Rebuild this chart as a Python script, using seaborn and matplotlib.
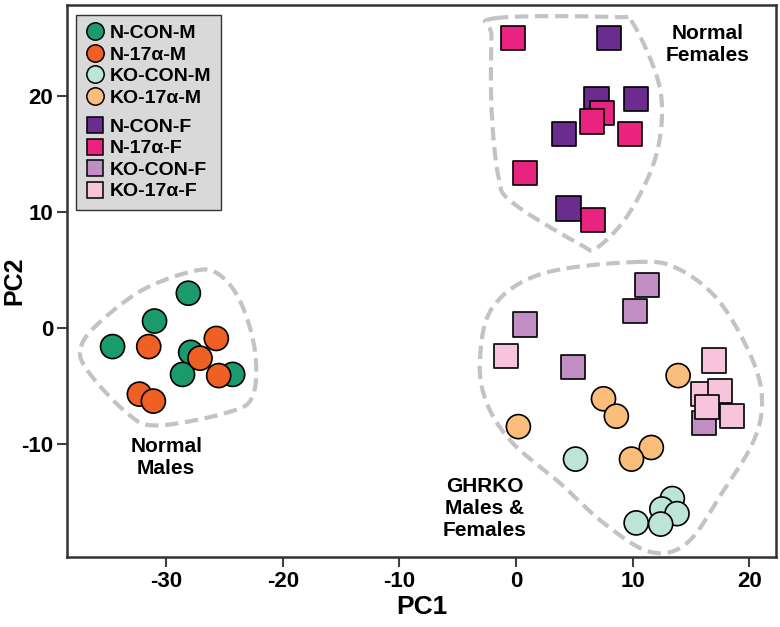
import numpy as np
import pandas as pd
import seaborn as sns
import matplotlib.pyplot as plt
from matplotlib.lines import Line2D
from matplotlib.patches import Rectangle

# PCA scores, one pair of lists per group
n_con_m_pc1 = [-28.1, -31.0, -34.6, -27.9, -28.6, -24.3]
n_con_m_pc2 = [3.0, 0.6, -1.6, -2.1, -4.0, -4.0]
n_17a_m_pc1 = [-31.5, -25.7, -27.1, -25.5, -32.3, -31.1]
n_17a_m_pc2 = [-1.6, -0.9, -2.6, -4.1, -5.7, -6.3]
ko_con_m_pc1 = [5.1, 13.4, 12.5, 13.8, 12.4, 10.3]
ko_con_m_pc2 = [-11.3, -14.7, -15.6, -16.0, -16.9, -16.8]
ko_17a_m_pc1 = [13.9, 7.5, 8.6, 0.2, 11.6, 9.9]
ko_17a_m_pc2 = [-4.1, -6.1, -7.6, -8.5, -10.3, -11.3]
n_con_f_pc1 = [8.0, 6.9, 10.3, 4.1, 4.5]
n_con_f_pc2 = [25.0, 19.7, 19.7, 16.7, 10.3]
n_17a_f_pc1 = [-0.3, 7.4, 6.5, 9.8, 0.8, 6.6]
n_17a_f_pc2 = [25.0, 18.5, 17.8, 16.7, 13.4, 9.3]
ko_con_f_pc1 = [11.2, 10.2, 0.8, 4.9, 16.1]
ko_con_f_pc2 = [3.7, 1.5, 0.3, -3.4, -8.2]
ko_17a_f_pc1 = [-0.9, 17.0, 16.0, 17.5, 16.4, 18.5]
ko_17a_f_pc2 = [-2.4, -2.8, -5.7, -5.4, -6.8, -7.6]

group_names = ['N-CON-M', 'N-17α-M', 'KO-CON-M', 'KO-17α-M',
               'N-CON-F', 'N-17α-F', 'KO-CON-F', 'KO-17α-F']
group_colors = ['#1b9a6c', '#ee6024', '#bde5d6', '#fbbd7c',
                '#6a2c8f', '#e9237f', '#c18ec4', '#f7c4dc']

# dashed cluster outlines (rough vertices, smoothed below)
males_outline_x = [-37.3, -35.7, -32.0, -27.7, -25.6, -23.7, -22.4, -22.6, -24.8, -30.8, -33.4, -36.8]
males_outline_y = [-1.6, 0.5, 3.3, 4.9, 4.7, 2.4, -1.9, -5.9, -7.3, -8.4, -7.3, -3.6]
females_outline_x = [-1.8, 8.7, 10.0, 12.1, 12.5, 11.7, 9.5, 6.9, 5.5, -0.3, -1.5, -2.1, -2.1]
females_outline_y = [26.7, 26.8, 26.3, 21.6, 17.9, 13.9, 9.6, 6.9, 7.2, 10.8, 13.0, 18.8, 25.1]
ghrko_outline_x = [10.6, 2.3, -2.0, -3.1, -2.5, -0.3, 3.8, 7.5, 11.5, 14.7, 17.8, 20.3, 21.1, 20.3, 17.5, 14.1]
ghrko_outline_y = [5.7, 4.7, 1.8, -2.8, -6.5, -9.9, -13.4, -16.8, -19.3, -18.5, -14.0, -9.9, -6.5, -2.8, 2.2, 5.0]


def closed_spline(xs, ys, n=24):
    """Closed Catmull-Rom curve through the outline vertices"""
    p = np.column_stack([xs, ys])
    k = len(p)
    out = []
    for i in range(k):
        p0, p1, p2, p3 = p[i - 1], p[i], p[(i + 1) % k], p[(i + 2) % k]
        t = np.linspace(0, 1, n, endpoint=False)[:, None]
        seg = 0.5 * ((2 * p1) + (-p0 + p2) * t + (2 * p0 - 5 * p1 + 4 * p2 - p3) * t ** 2
                     + (-p0 + 3 * p1 - 3 * p2 + p3) * t ** 3)
        out.append(seg)
    out.append(p[:1])
    out = np.vstack(out)
    return out[:, 0], out[:, 1]


pc1_lists = [n_con_m_pc1, n_17a_m_pc1, ko_con_m_pc1, ko_17a_m_pc1,
             n_con_f_pc1, n_17a_f_pc1, ko_con_f_pc1, ko_17a_f_pc1]
pc2_lists = [n_con_m_pc2, n_17a_m_pc2, ko_con_m_pc2, ko_17a_m_pc2,
             n_con_f_pc2, n_17a_f_pc2, ko_con_f_pc2, ko_17a_f_pc2]

rows = []
for name, xs, ys in zip(group_names, pc1_lists, pc2_lists):
    for x, y in zip(xs, ys):
        rows.append({'PC1': x, 'PC2': y, 'group': name,
                     'sex': 'M' if name.endswith('-M') else 'F'})
df = pd.DataFrame(rows)

sns.set_theme(style='white')
plt.rcParams['font.family'] = ['Liberation Sans', 'DejaVu Sans']
plt.rcParams['font.weight'] = 'bold'
plt.rcParams['axes.unicode_minus'] = False
plt.rcParams['text.color'] = 'black'
plt.rcParams['axes.labelcolor'] = 'black'
plt.rcParams['xtick.color'] = 'black'
plt.rcParams['ytick.color'] = 'black'

fig = plt.figure(figsize=(7.8, 6.27), dpi=100)
ax = fig.add_axes([0.086, 0.1116, 0.909, 0.8804])

# outlines first so the points sit on top
for ox, oy in [(males_outline_x, males_outline_y),
               (females_outline_x, females_outline_y),
               (ghrko_outline_x, ghrko_outline_y)]:
    sx, sy = closed_spline(ox, oy)
    ax.plot(sx, sy, color='#c3c3c3', lw=3, linestyle=(0, (3.2, 1.6)),
            solid_capstyle='butt', zorder=1)

palette = dict(zip(group_names, group_colors))
sns.scatterplot(data=df, x='PC1', y='PC2', hue='group', style='sex',
                hue_order=group_names, palette=palette,
                markers={'M': 'o', 'F': 's'}, s=300,
                edgecolor='black', linewidth=1.2, legend=False, ax=ax, zorder=3)

ax.text(-30.0, -11.2, 'Normal\nMales', ha='center', va='center',
        fontsize=15, fontweight='bold', linespacing=1.2)
ax.text(16.4, 24.4, 'Normal\nFemales', ha='center', va='center',
        fontsize=15, fontweight='bold', linespacing=1.2)
ax.text(-2.7, -15.6, 'GHRKO\nMales &\nFemales', ha='center', va='center',
        fontsize=15, fontweight='bold', linespacing=1.2)

ax.set_xlim(-38.5, 22.3)
ax.set_ylim(-19.74, 27.84)
ax.set_autoscale_on(False)
ax.set_xticks([-30, -20, -10, 0, 10, 20])
ax.set_yticks([-10, 0, 10, 20])
ax.set_xlabel('PC1', fontsize=19, fontweight='bold', labelpad=2)
ax.set_ylabel('PC2', fontsize=18, fontweight='bold')
ax.yaxis.set_label_coords(-0.058, 0.5)
ax.tick_params(axis='both', direction='out', length=7, width=1.5,
               color='#404040', labelsize=16, pad=3, bottom=True, left=True)
for lab in ax.get_xticklabels() + ax.get_yticklabels():
    lab.set_fontweight('bold')
for sp in ax.spines.values():
    sp.set_color('#333333')
    sp.set_linewidth(1.8)

# legend: two stacked legends (males / females) on one shared grey box
def legend_handles(names, colors, marker, size):
    return [Line2D([], [], marker=marker, linestyle='none', markersize=size,
                   markerfacecolor=c, markeredgecolor='black',
                   markeredgewidth=1.1, label=n) for n, c in zip(names, colors)]

leg_kw = dict(loc='upper left', borderaxespad=0, frameon=False,
              handlelength=0.9, handletextpad=0.3, labelspacing=0.2,
              borderpad=0.5, prop={'weight': 'bold', 'size': 14})

leg_m = ax.legend(handles=legend_handles(group_names[:4], group_colors[:4], 'o', 12.5),
                  bbox_to_anchor=(0.013, 0.982), **leg_kw)
leg_m.set_zorder(6)
ax.add_artist(leg_m)
fig.canvas.draw()
inv = ax.transAxes.inverted()
bb_m = leg_m.get_window_extent().transformed(inv)

leg_f = ax.legend(handles=legend_handles(group_names[4:], group_colors[4:], 's', 12),
                  bbox_to_anchor=(0.013, bb_m.y0 + 8.0 / 552), **leg_kw)
leg_f.set_zorder(6)
fig.canvas.draw()
bb_f = leg_f.get_window_extent().transformed(inv)

x0 = min(bb_m.x0, bb_f.x0)
x1 = max(bb_m.x1, bb_f.x1)
ax.add_patch(Rectangle((x0, bb_f.y0), x1 - x0, bb_m.y1 - bb_f.y0,
                       transform=ax.transAxes, facecolor='#d9d9d9',
                       edgecolor='#333333', lw=1.0, zorder=5, clip_on=False))

fig.savefig('out.png', dpi=100)
